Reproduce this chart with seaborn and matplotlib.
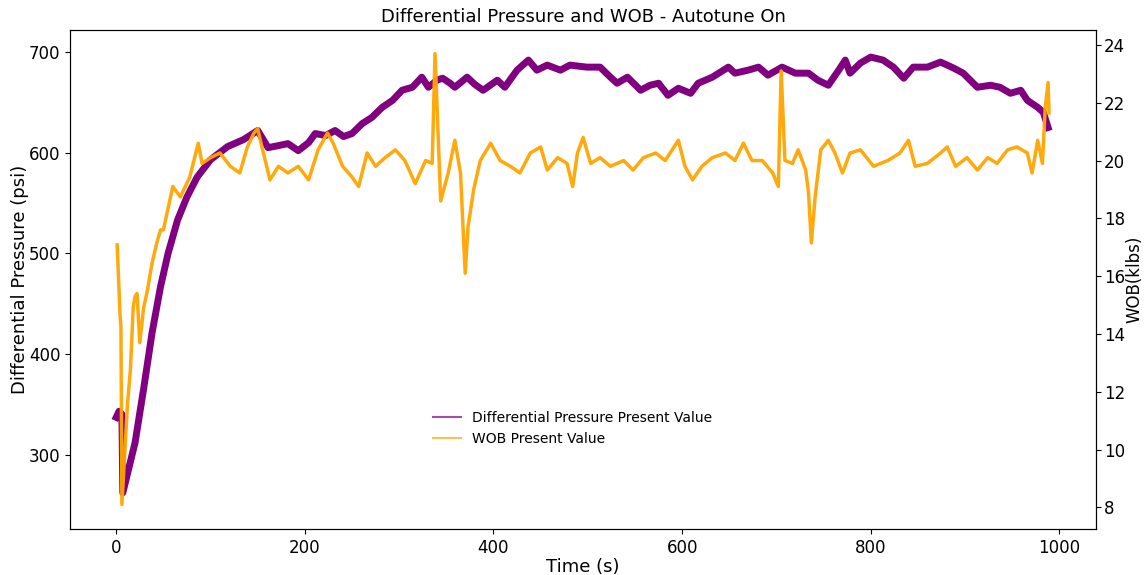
import matplotlib
matplotlib.use('Agg')
import matplotlib.pyplot as plt
import seaborn as sns
from matplotlib.lines import Line2D

# Differential pressure (psi)
pressure_time = [0, 3, 6, 7, 20, 29, 38, 47, 55, 65, 75, 86, 100, 118, 135, 150, 161, 172, 182,
                 193, 204, 211, 222, 232, 241, 250, 261, 271, 282, 293, 303, 314, 324, 331, 340,
                 346, 354, 359, 372, 380, 389, 404, 412, 425, 437, 446, 457, 471, 481, 499, 513,
                 524, 531, 542, 556, 566, 575, 585, 596, 609, 617, 632, 649, 656, 670, 681, 691,
                 706, 720, 734, 744, 755, 766, 773, 778, 789, 800, 813, 824, 835, 845, 860, 874,
                 888, 898, 913, 927, 937, 948, 959, 966, 977, 983, 988]
pressure_psi = [337, 343, 340, 262, 312, 365, 421, 467, 500, 533, 556, 576, 593, 606, 613, 622, 605,
                607, 609, 602, 610, 619, 617, 622, 616, 619, 629, 635, 645, 652, 662, 665, 675, 665,
                672, 674, 669, 665, 675, 668, 662, 672, 665, 682, 692, 682, 687, 682, 687, 685, 685,
                675, 669, 675, 662, 667, 669, 657, 664, 659, 669, 675, 685, 679, 682, 685, 677, 685,
                679, 679, 672, 667, 682, 692, 679, 689, 695, 692, 685, 674, 685, 685, 690, 684, 679,
                665, 667, 665, 659, 662, 652, 645, 640, 625]

# Weight on bit (klbs)
wob_time = [1, 4, 5, 6, 12, 15, 18, 20, 22, 25, 29, 33, 38, 43, 47, 50, 54, 60, 68, 78, 87, 91,
            100, 110, 121, 131, 139, 146, 150, 155, 163, 172, 182, 193, 204, 214, 224, 230, 240,
            250, 257, 266, 275, 285, 296, 306, 317, 328, 335, 338, 344, 352, 359, 365, 370, 373,
            379, 386, 397, 407, 418, 428, 439, 450, 457, 468, 478, 484, 489, 495, 503, 513, 524,
            538, 548, 559, 572, 582, 596, 603, 611, 621, 632, 646, 656, 665, 674, 685, 696, 702,
            705, 709, 717, 723, 731, 734, 737, 741, 747, 755, 762, 770, 778, 789, 803, 818, 831,
            840, 847, 860, 874, 881, 890, 902, 913, 924, 934, 945, 955, 966, 971, 977, 982, 985,
            988, 989]
wob_klbs = [17.08, 14.7, 14.24, 8.1, 11.6, 12.75, 14.93, 15.3, 15.4, 13.7, 14.9, 15.5, 16.45,
            17.15, 17.6, 17.6, 18.2, 19.1, 18.74, 19.43, 20.6, 19.9, 20.1, 20.26, 19.8, 19.57,
            20.47, 20.95, 21.1, 20.4, 19.33, 19.8, 19.57, 19.8, 19.33, 20.37, 20.95, 20.6, 19.8,
            19.43, 19.1, 20.26, 19.8, 20.1, 20.37, 20.0, 19.2, 20.0, 19.9, 23.7, 18.6, 19.57,
            20.7, 19.57, 16.1, 17.7, 19.0, 20.0, 20.6, 20.0, 19.8, 19.57, 20.26, 20.47, 19.67,
            20.1, 19.9, 19.1, 20.26, 20.8, 19.9, 20.1, 19.8, 20.0, 19.67, 20.1, 20.26, 20.0, 20.7,
            19.8, 19.33, 19.8, 20.1, 20.26, 20.0, 20.6, 20.0, 20.0, 19.57, 19.1, 23.1, 20.0, 19.9,
            20.37, 19.67, 18.9, 17.15, 18.74, 20.37, 20.7, 20.26, 19.57, 20.26, 20.37, 19.8, 20.0,
            20.26, 20.7, 19.8, 19.9, 20.26, 20.47, 19.8, 20.1, 19.67, 20.1, 19.9, 20.37, 20.47,
            20.26, 19.57, 20.7, 19.9, 21.85, 22.7, 21.65]

series_labels = ['Differential Pressure Present Value', 'WOB Present Value']
title = 'Differential Pressure and WOB - Autotune On'

plt.rcParams['font.family'] = ['DejaVu Sans']

fig = plt.figure(figsize=(11.44, 5.75), dpi=100)
ax = fig.add_axes([0.0612, 0.080, 0.897, 0.868])

sns.lineplot(x=pressure_time, y=pressure_psi, ax=ax, color='purple', lw=5,
             sort=False, estimator=None)
ax2 = ax.twinx()
sns.lineplot(x=wob_time, y=wob_klbs, ax=ax2, color='orange', lw=2.5, alpha=0.95,
             sort=False, estimator=None)

ax.set_xlim(-49, 1039)
ax.set_ylim(226, 722)
ax2.set_ylim(7.25, 24.52)
ax.set_xticks([0, 200, 400, 600, 800, 1000])
ax.set_yticks([300, 400, 500, 600, 700])
ax2.set_yticks(list(range(8, 25, 2)))

ax.set_title(title, fontsize=13)
ax.set_xlabel('Time (s)', fontsize=13, labelpad=1)
ax.set_ylabel('Differential Pressure (psi)', fontsize=13, labelpad=0)
ax.tick_params(labelsize=12)
ax2.tick_params(labelsize=12, pad=2)
ax2.set_ylabel('WOB(klbs)', fontsize=12, labelpad=0)

handles = [Line2D([0], [0], color='purple', lw=1.5, alpha=0.7),
           Line2D([0], [0], color='orange', lw=1.5, alpha=0.7)]
ax2.legend(handles, series_labels, frameon=False, fontsize=10,
           loc='lower left', bbox_to_anchor=(0.342, 0.141))

fig.savefig('out.png', dpi=100)
